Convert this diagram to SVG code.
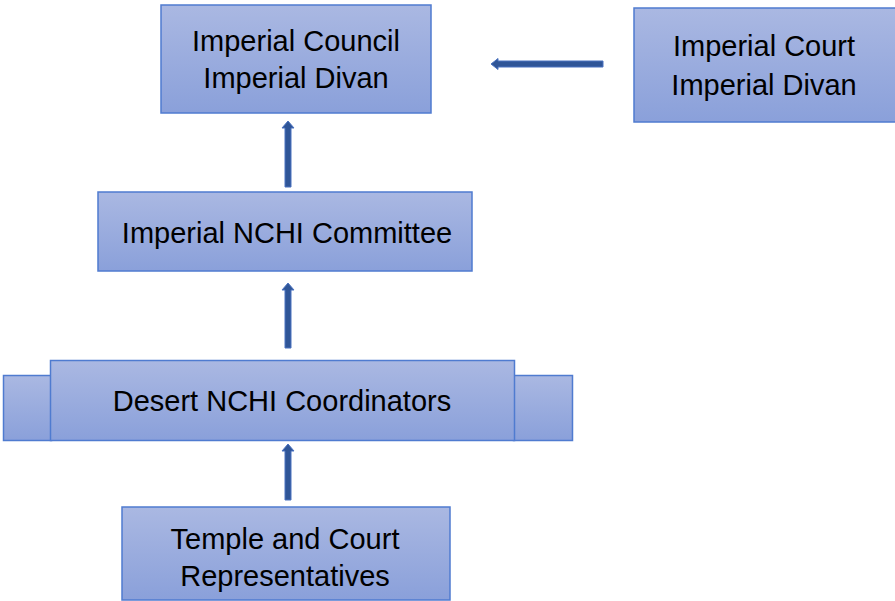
<svg xmlns="http://www.w3.org/2000/svg" width="895" height="601" viewBox="0 0 895 601">
<defs>
<linearGradient id="g" x1="0" y1="0" x2="0" y2="1">
<stop offset="0" stop-color="#aab8e2"/>
<stop offset="1" stop-color="#8aa0da"/>
</linearGradient>
<style>
.box{fill:url(#g);stroke:#4f7bd0;stroke-width:1.5}
.t{font-family:"Liberation Sans",Arial,sans-serif;font-size:29px;fill:#000;text-anchor:middle}
.arr{fill:#2f5597;stroke:#4a72c0;stroke-width:1}
</style>
</defs>
<rect width="895" height="601" fill="#fff"/>
<g id="council">
<rect class="box" x="161" y="5" width="270" height="108"/>
<text class="t" x="296" y="51">Imperial Council</text>
<text class="t" x="296" y="88">Imperial Divan</text>
</g>
<g id="court">
<rect class="box" x="634" y="8" width="262" height="114"/>
<text class="t" x="764" y="56">Imperial Court</text>
<text class="t" x="764" y="95">Imperial Divan</text>
</g>
<g id="committee">
<rect class="box" x="98" y="192" width="374" height="79"/>
<text class="t" x="287" y="243">Imperial NCHI Committee</text>
</g>
<g id="desert">
<rect class="box" x="3.5" y="375.5" width="48" height="65"/>
<rect class="box" x="513.5" y="375.5" width="59" height="65"/>
<rect class="box" x="50.5" y="360.5" width="464" height="80"/>
<text class="t" x="282" y="411">Desert NCHI Coordinators</text>
</g>
<g id="temple">
<rect class="box" x="122" y="507" width="328" height="93"/>
<text class="t" x="285" y="549">Temple and Court</text>
<text class="t" x="285" y="586">Representatives</text>
</g>
<g id="connectors">
<polygon class="arr" points="285,187 291,187 291,128 294,128 288,121 282,128 285,128"/>
<polygon class="arr" points="285,348 291,348 291,290 294,290 288,283 282,290 285,290"/>
<polygon class="arr" points="285,500 291,500 291,451 294,451 288,444 282,451 285,451"/>
<polygon class="arr" points="603,61 603,67 498,67 498,69.5 491,64 498,58.5 498,61"/>
</g>
</svg>
